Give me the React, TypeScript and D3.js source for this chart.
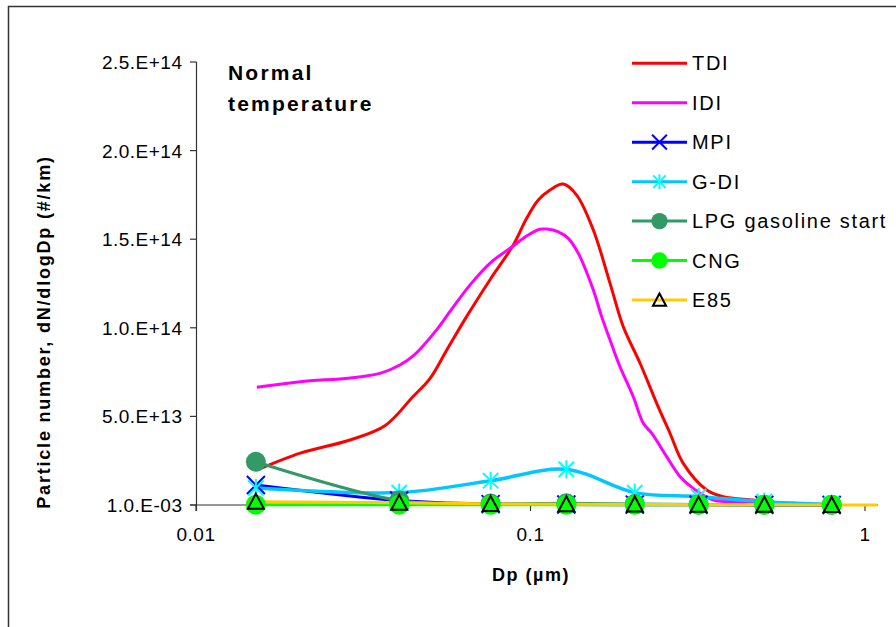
import React from 'react';
import * as d3 from 'd3';

const W = 896;
const H = 627;

// Axis ticks
const X_TICKS = [0.01, 0.1, 1];
const X_TICK_LABELS = ['0.01', '0.1', '1'];
const Y_TICKS = [0, 5e13, 1e14, 1.5e14, 2e14, 2.5e14];
const Y_TICK_LABELS = ['1.0.E-03', '5.0.E+13', '1.0.E+14', '1.5.E+14', '2.0.E+14', '2.5.E+14'];

// SMPS-type series (no markers), values in units of 1e13 #/km
const TDI_D = [0.0152, 0.0205, 0.0289, 0.0367, 0.0445, 0.0501, 0.0562, 0.0644, 0.0756, 0.0888, 0.0974, 0.1055, 0.1144, 0.1253, 0.1374, 0.1541, 0.1729, 0.1894, 0.2126, 0.2384, 0.2612, 0.2862, 0.3362, 0.3771, 0.4636, 0.557, 0.785];
const TDI_V = [1.97, 2.93, 3.67, 4.47, 6.11, 7.15, 8.75, 10.63, 12.7, 14.67, 16.18, 17.21, 17.78, 18.11, 17.49, 15.52, 12.51, 10.06, 8.0, 5.74, 4.05, 2.35, 0.85, 0.47, 0.28, 0.11, 0.03];

const IDI_D = [0.0152, 0.0205, 0.0289, 0.0355, 0.0407, 0.0446, 0.0524, 0.0574, 0.0659, 0.0756, 0.0888, 0.0974, 0.1067, 0.1118, 0.1211, 0.1297, 0.139, 0.1541, 0.1632, 0.1729, 0.1852, 0.2029, 0.2174, 0.2303, 0.2553, 0.28, 0.3066, 0.352, 0.4429, 0.557, 0.785];
const IDI_V = [6.64, 6.96, 7.17, 7.43, 7.9, 8.41, 9.88, 10.91, 12.41, 13.64, 14.62, 15.18, 15.56, 15.57, 15.42, 15.05, 14.2, 12.13, 10.63, 9.31, 7.8, 6.11, 4.61, 4.05, 2.73, 1.6, 0.94, 0.28, 0.19, 0.06, 0.01];

// ELPI-type series (with markers), values in units of 1e13 #/km
const STAGE_D = [0.0151, 0.0405, 0.076, 0.128, 0.205, 0.318, 0.5, 0.795];
const MPI_V = [1.13, 0.25, 0.05, 0.03, 0.02, 0.01, 0.005, 0.003];
const GDI_V = [0.96, 0.7, 1.37, 2.01, 0.7, 0.47, 0.19, 0.03];
const LPG_V = [2.44, 0.25, 0.08, 0.1, 0.06, 0.03, 0.02, 0.01];
const CNG_V = [0.02, 0.02, 0.01, 0.01, 0.01, 0.01, 0.01, 0.01];
const E85_V = [0.19, 0.12, 0.06, 0.04, 0.03, 0.02, 0.01, 0.005];
const E85_TAIL_D = [1.09];
const E85_TAIL_V = [0];

const UNIT = 1e13;

type Marker = 'none' | 'x' | 'star' | 'circle' | 'tri';
interface Series {
  name: string;
  d: number[];
  v: number[];
  color: string;
  markerColor: string;
  marker: Marker;
  width: number;
  markCount: number;
}

const SERIES: Series[] = [
  { name: 'TDI', d: TDI_D, v: TDI_V, color: '#ff0000', markerColor: '#ff0000', marker: 'none', width: 3, markCount: 0 },
  { name: 'IDI', d: IDI_D, v: IDI_V, color: '#ff00ff', markerColor: '#ff00ff', marker: 'none', width: 3, markCount: 0 },
  { name: 'MPI', d: STAGE_D, v: MPI_V, color: '#0000ff', markerColor: '#0000ff', marker: 'x', width: 3, markCount: STAGE_D.length },
  { name: 'G-DI', d: STAGE_D, v: GDI_V, color: '#00c8ff', markerColor: '#00ffff', marker: 'star', width: 3.5, markCount: STAGE_D.length },
  { name: 'LPG gasoline start', d: STAGE_D, v: LPG_V, color: '#339966', markerColor: '#339966', marker: 'circle', width: 3, markCount: STAGE_D.length },
  { name: 'CNG', d: STAGE_D, v: CNG_V, color: '#00ff00', markerColor: '#00ff00', marker: 'circle', width: 3, markCount: STAGE_D.length },
  { name: 'E85', d: [...STAGE_D, ...E85_TAIL_D], v: [...E85_V, ...E85_TAIL_V], color: '#ffcc00', markerColor: '#000000', marker: 'tri', width: 3, markCount: STAGE_D.length },
];

const FONT = "'Liberation Sans', Arial, sans-serif";

function MarkerShape({ type, color, cx, cy, s }: { type: Marker; color: string; cx: number; cy: number; s: number }) {
  if (type === 'x') {
    const r = 9 * s;
    return (
      <g stroke={color} strokeWidth={2}>
        <line x1={cx - r} y1={cy - r} x2={cx + r} y2={cy + r} />
        <line x1={cx - r} y1={cy + r} x2={cx + r} y2={cy - r} />
      </g>
    );
  }
  if (type === 'star') {
    const r = 9 * s;
    const rd = r * 0.85;
    return (
      <g stroke={color} strokeWidth={2}>
        <line x1={cx - rd} y1={cy - rd} x2={cx + rd} y2={cy + rd} />
        <line x1={cx - rd} y1={cy + rd} x2={cx + rd} y2={cy - rd} />
        <line x1={cx} y1={cy - r} x2={cx} y2={cy + r} />
      </g>
    );
  }
  if (type === 'circle') {
    return <circle cx={cx} cy={cy} r={10 * s} fill={color} stroke="none" />;
  }
  if (type === 'tri') {
    const hw = 8 * s;
    const top = 8 * s;
    const bot = 7 * s;
    return (
      <polygon
        points={`${cx},${cy - top} ${cx + hw},${cy + bot} ${cx - hw},${cy + bot}`}
        fill="none"
        stroke={color}
        strokeWidth={2}
        strokeLinejoin="miter"
      />
    );
  }
  return null;
}

export default function App() {
  const x = d3.scaleLog().domain([0.01, 1]).range([196, 865]);
  const y = d3.scaleLinear().domain([0, 2.5e14]).range([505, 62]);
  const xEnd = 878;

  const lineSmooth = d3
    .line<[number, number]>()
    .x((p) => x(p[0]))
    .y((p) => y(p[1] * UNIT))
    .curve(d3.curveCatmullRom.alpha(0.5));

  const legendX1 = 632;
  const legendX2 = 687;
  const legendMX = 659.5;
  const legendTX = 692;
  const legendY0 = 63.3;
  const legendDY = 39.45;

  return (
    <svg
      width={W}
      height={H}
      style={{ position: 'absolute', left: 0, top: 0, background: '#fff' }}
      fontFamily={FONT}
    >
      <rect x={0} y={0} width={W} height={H} fill="#ffffff" />
      {/* outer chart border */}
      <rect x={8.5} y={6.5} width={W + 20} height={H + 20} fill="none" stroke="#333" strokeWidth={1.5} />

      {/* y axis */}
      <line x1={196.5} y1={62} x2={196.5} y2={511} stroke="#333" strokeWidth={1.2} />
      {Y_TICKS.map((t, i) => (
        <g key={'yt' + i}>
          <line x1={190} x2={196.5} y1={y(t)} y2={y(t)} stroke="#333" strokeWidth={1.2} />
          <text
            x={182.5}
            y={y(t) + 7}
            textAnchor="end"
            fontSize={19}
            letterSpacing={0.5}
            fill="#000"
          >
            {Y_TICK_LABELS[i]}
          </text>
        </g>
      ))}

      {/* x axis */}
      <line x1={190} y1={505} x2={xEnd} y2={505} stroke="#333" strokeWidth={1.2} />
      {X_TICKS.map((t, i) => (
        <g key={'xt' + i}>
          <line x1={x(t)} x2={x(t)} y1={505} y2={511} stroke="#333" strokeWidth={1.2} />
          <text x={x(t)} y={540.7} textAnchor="middle" fontSize={19} letterSpacing={0.5} fill="#000">
            {X_TICK_LABELS[i]}
          </text>
        </g>
      ))}

      {/* series lines */}
      {SERIES.map((s) => {
        const pts: [number, number][] = s.d.map((dd, i) => [dd, s.v[i]]);
        const path = lineSmooth(pts) || '';
        return <path key={'l' + s.name} d={path} fill="none" stroke={s.color} strokeWidth={s.width} strokeLinejoin="round" />;
      })}
      {/* series markers */}
      {SERIES.map((s) => (
        <g key={'m' + s.name}>
          {s.d.slice(0, s.markCount).map((dd, i) => (
            <MarkerShape key={i} type={s.marker} color={s.markerColor} cx={x(dd)} cy={y(s.v[i] * UNIT)} s={1} />
          ))}
        </g>
      ))}

      {/* annotation */}
      <text x={228} y={80} fontSize={21} fontWeight="bold" letterSpacing={2.2} fill="#000">
        Normal
      </text>
      <text x={228} y={111} fontSize={21} fontWeight="bold" letterSpacing={2.2} fill="#000">
        temperature
      </text>

      {/* legend */}
      {SERIES.map((s, i) => {
        const ly = legendY0 + i * legendDY;
        return (
          <g key={'lg' + s.name}>
            <line x1={legendX1} x2={legendX2} y1={ly} y2={ly} stroke={s.color} strokeWidth={3} />
            <MarkerShape type={s.marker} color={s.markerColor} cx={legendMX} cy={ly} s={0.82} />
            <text x={legendTX} y={ly + 7} fontSize={20} letterSpacing={1.7} fill="#000">
              {s.name}
            </text>
          </g>
        );
      })}

      {/* axis titles */}
      <text x={531} y={581} textAnchor="middle" fontSize={18} fontWeight="bold" letterSpacing={1.5} fill="#000">
        Dp (µm)
      </text>
      <text
        transform={`translate(50, 332) rotate(-90)`}
        textAnchor="middle"
        fontSize={18}
        fontWeight="bold"
        letterSpacing={1.8}
        fill="#000"
      >
        Particle number, dN/dlogDp (#/km)
      </text>
    </svg>
  );
}
